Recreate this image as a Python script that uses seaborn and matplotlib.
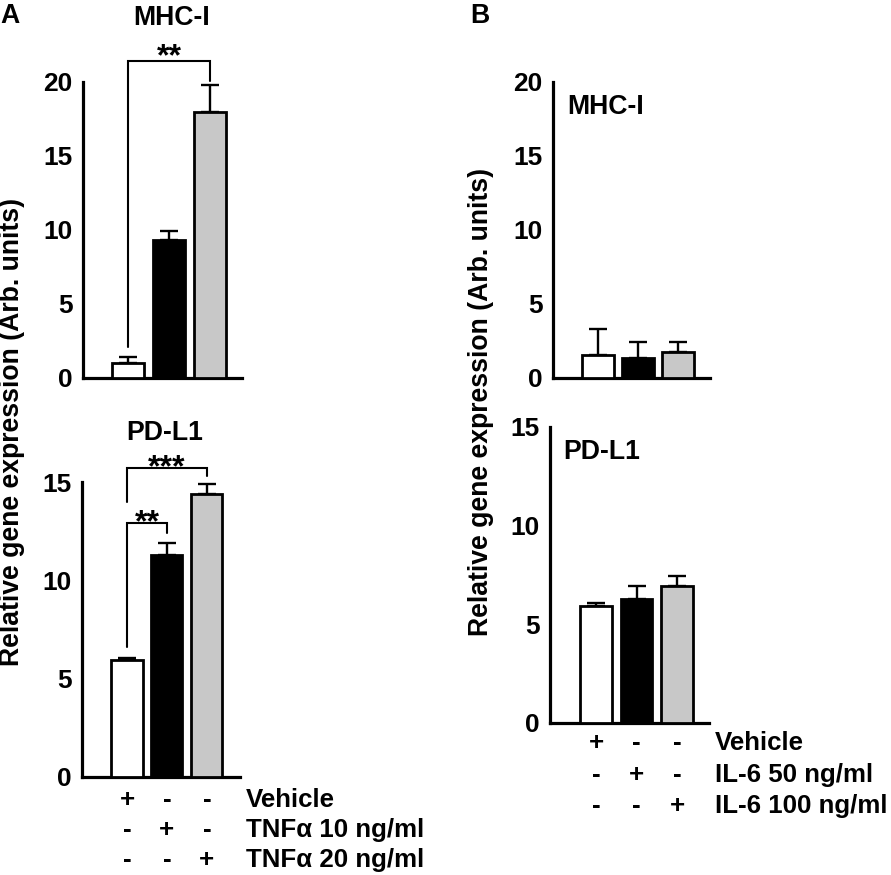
import matplotlib
matplotlib.use("Agg")
import matplotlib.pyplot as plt
import matplotlib.transforms as mtransforms
import seaborn as sns
import numpy as np
import pandas as pd

# ---------------- data ----------------
conditions = ["Vehicle", "Dose low", "Dose high"]
bar_colors = ["#ffffff", "#000000", "#c8c8c8"]

a_mhc_mean = [1.0, 9.35, 18.0]
a_mhc_err = [0.4, 0.6, 1.8]
a_pdl1_mean = [5.95, 11.3, 14.4]
a_pdl1_err = [0.12, 0.6, 0.5]

b_mhc_mean = [1.55, 1.35, 1.75]
b_mhc_err = [1.75, 1.05, 0.65]
b_pdl1_mean = [5.95, 6.3, 6.95]
b_pdl1_err = [0.15, 0.65, 0.5]

a_row_labels = ["Vehicle", "TNFα 10 ng/ml", "TNFα 20 ng/ml"]
b_row_labels = ["Vehicle", "IL-6 50 ng/ml", "IL-6 100 ng/ml"]
row_signs = [["+", "-", "-"], ["-", "+", "-"], ["-", "-", "+"]]

mhc_ticks = [0, 5, 10, 15, 20]
pdl1_ticks = [0, 5, 10, 15]

# significance brackets: (left bar, right bar, bracket y, left end y, right end y, label)
a_mhc_sig = [(0, 2, 21.4, 2.1, 20.1, "**")]
a_pdl1_sig = [(0, 2, 15.7, 14.0, 15.3, "***"), (0, 1, 12.9, 6.6, 12.4, "**")]

# ---------------- style ----------------
sns.set_theme(style="white")
plt.rcParams["font.family"] = ["Liberation Sans", "DejaVu Sans"]
plt.rcParams["font.weight"] = "bold"
plt.rcParams["text.color"] = "black"

W, H = 891, 875
fig = plt.figure(figsize=(W / 100, H / 100), dpi=100)
fig.patch.set_facecolor("white")


def fx(x):
    return x / W


def fy(y):
    return 1 - y / H


def make_ax(x0, x1, ybot, ytop):
    return fig.add_axes([fx(x0), fy(ybot), fx(x1) - fx(x0), (ybot - ytop) / H])


SPINE_LW = 2.3
TXT = 19.2
ROW_TXT = 18.6
STAR = 23


def draw_panel(ax, means, errs, ylim, ticks, xlim):
    df = pd.DataFrame({"cond": conditions, "val": means})
    sns.barplot(data=df, x="cond", y="val", hue="cond", palette=bar_colors,
                order=conditions, hue_order=conditions, edgecolor="black",
                linewidth=2.0, width=0.78, legend=False, ax=ax, zorder=3)
    ax.errorbar(np.arange(len(means)), means, yerr=[np.zeros(len(errs)), errs],
                fmt="none", ecolor="black", elinewidth=1.7, capsize=6.5,
                capthick=1.7, zorder=2)
    ax.set_ylim(*ylim)
    ax.set_xlim(*xlim)
    ax.set_yticks(ticks)
    ax.set_yticklabels([str(t) for t in ticks])
    ax.set_xticks([])
    ax.set_xlabel("")
    ax.set_ylabel("")
    for s in ["top", "right"]:
        ax.spines[s].set_visible(False)
    for s in ["left", "bottom"]:
        ax.spines[s].set_linewidth(SPINE_LW)
        ax.spines[s].set_color("black")
    ax.tick_params(axis="y", direction="in", length=7.5, width=2.2,
                   labelsize=19, pad=7.5, colors="black")
    for lab in ax.get_yticklabels():
        lab.set_fontweight("bold")
    ax.set_facecolor("none")


def draw_sig(ax, sigs, star_offset_px):
    for (i, j, yb, yl, yr, lab), off in zip(sigs, star_offset_px):
        ax.plot([i, i, j, j], [yl, yb, yb, yr], color="black", lw=1.5,
                clip_on=False, solid_joinstyle="miter", zorder=4)
        ax.annotate(lab, xy=((i + j) / 2, yb), xytext=(0, off),
                    textcoords="offset pixels", ha="center", va="baseline",
                    fontsize=STAR, fontweight="bold", annotation_clip=False)


def draw_rows(ax, labels, baselines_px, label_x_px):
    tr = mtransforms.blended_transform_factory(ax.transData, fig.transFigure)
    for r, (lab, yb) in enumerate(zip(labels, baselines_px)):
        for c, s in enumerate(row_signs[r]):
            ax.text(c, fy(yb), s, transform=tr, ha="center", va="baseline",
                    fontsize=ROW_TXT, fontweight="bold", clip_on=False)
        fig.text(fx(label_x_px), fy(yb), lab, ha="left", va="baseline",
                 fontsize=ROW_TXT, fontweight="bold")


# Panel A top
ax1 = make_ax(83, 242, 378, 82)
draw_panel(ax1, a_mhc_mean, a_mhc_err, (0, 20), mhc_ticks, (-1.10, 2.78))
draw_sig(ax1, a_mhc_sig, [-4])
fig.text(fx(172), fy(25), "MHC-I", ha="center", va="baseline", fontsize=TXT, fontweight="bold")

# Panel A bottom
ax2 = make_ax(82, 240, 777, 482)
draw_panel(ax2, a_pdl1_mean, a_pdl1_err, (0, 15), pdl1_ticks, (-1.125, 2.83))
draw_sig(ax2, a_pdl1_sig, [-8, -8])
fig.text(fx(165), fy(440), "PD-L1", ha="center", va="baseline", fontsize=TXT, fontweight="bold")
draw_rows(ax2, a_row_labels, [807, 837, 867], 246)

# Panel B top
ax3 = make_ax(553, 710, 378, 82)
draw_panel(ax3, b_mhc_mean, b_mhc_err, (0, 20), mhc_ticks, (-1.125, 2.8))
fig.text(fx(567), fy(114), "MHC-I", ha="left", va="baseline", fontsize=TXT, fontweight="bold")

# Panel B bottom
ax4 = make_ax(550, 709, 723, 427)
draw_panel(ax4, b_pdl1_mean, b_pdl1_err, (0, 15), pdl1_ticks, (-1.14, 2.79))
fig.text(fx(563), fy(459), "PD-L1", ha="left", va="baseline", fontsize=TXT, fontweight="bold")
draw_rows(ax4, b_row_labels, [750, 782, 813], 715)

# y labels
ylab = "Relative gene expression (Arb. units)"
fig.text(fx(12), fy(432), ylab, rotation=90, ha="center", va="center", fontsize=TXT, fontweight="bold")
fig.text(fx(481), fy(402), ylab, rotation=90, ha="center", va="center", fontsize=TXT, fontweight="bold")

# panel letters
fig.text(fx(0), fy(23), "A", ha="left", va="baseline", fontsize=TXT, fontweight="bold")
fig.text(fx(470), fy(23), "B", ha="left", va="baseline", fontsize=TXT, fontweight="bold")

fig.savefig("out.png", dpi=100, facecolor="white")
